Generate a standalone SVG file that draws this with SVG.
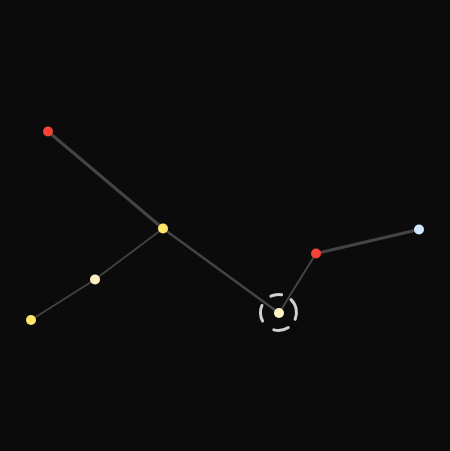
<svg xmlns="http://www.w3.org/2000/svg" width="450" height="451" viewBox="0 0 450 451">
<style>
.edge{stroke:#444;fill:none;stroke-linecap:round}
.n{stroke:none}
.ring{fill:none;stroke:#d0d0d0;stroke-width:3;stroke-linecap:round}
</style>
<rect width="450" height="451" fill="#0b0b0b"/>
<g id="connectors">
<line class="edge" x1="48" y1="131.5" x2="163" y2="228.5" stroke-width="3"/>
<line class="edge" x1="163" y1="228.5" x2="279" y2="313" stroke-width="2.6"/>
<line class="edge" x1="163" y1="228.5" x2="95" y2="279.5" stroke-width="1.6"/>
<line class="edge" x1="95" y1="279.5" x2="31" y2="320" stroke-width="1.6"/>
<line class="edge" x1="279" y1="313" x2="316" y2="253.5" stroke-width="2"/>
<line class="edge" x1="316" y1="253.5" x2="419" y2="229.5" stroke-width="3"/>
</g>
<g id="ring">
<path class="ring" d="M290.99 299.55 A18 18 0 0 1 295.19 319.24"/>
<path class="ring" d="M288.30 327.60 A18 18 0 0 1 273.84 329.89"/>
<path class="ring" d="M262.61 320.95 A18 18 0 0 1 261.93 305.47"/>
<path class="ring" d="M270.89 296.19 A18 18 0 0 1 281.63 294.77"/>
</g>
<g id="n1"><circle class="n" cx="48" cy="131.5" r="5" fill="#f44336"/></g>
<g id="n2"><circle class="n" cx="163" cy="228.5" r="5" fill="#ffe66b"/></g>
<g id="n3"><circle class="n" cx="95" cy="279.5" r="5" fill="#fff3c4"/></g>
<g id="n4"><circle class="n" cx="31" cy="320" r="5" fill="#ffe66b"/></g>
<g id="n5"><circle class="n" cx="279" cy="313" r="5" fill="#fff3c4"/></g>
<g id="n6"><circle class="n" cx="316" cy="253.5" r="5" fill="#f44336"/></g>
<g id="n7"><circle class="n" cx="419" cy="229.5" r="5" fill="#cfe8ff"/></g>
</svg>
